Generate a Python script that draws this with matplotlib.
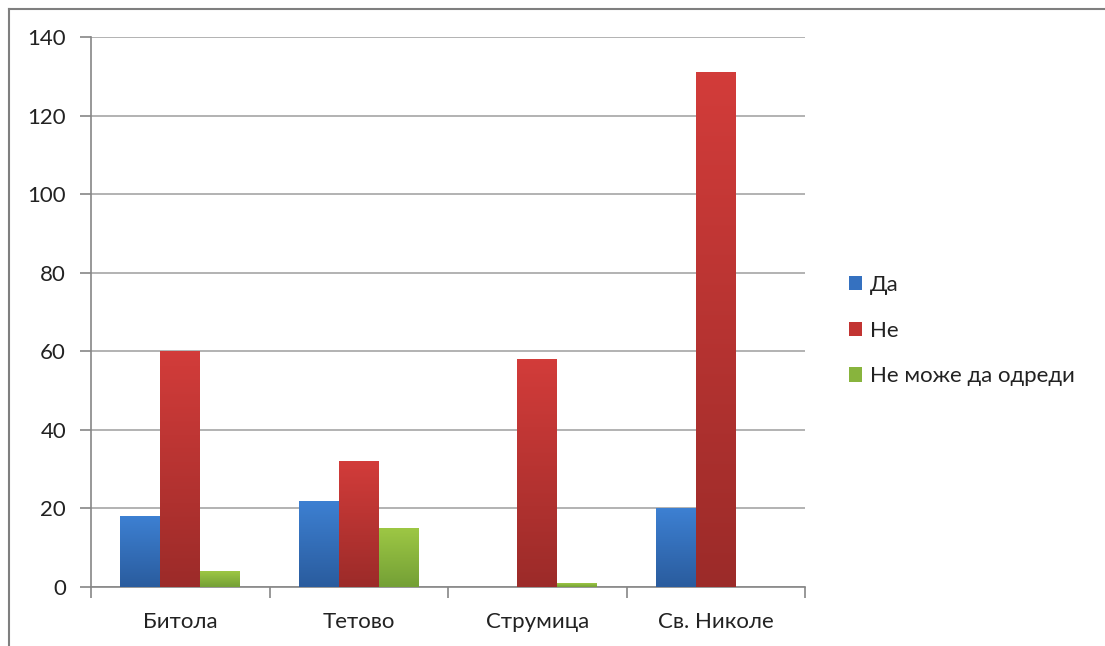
import numpy as np
import matplotlib
matplotlib.use('Agg')
from matplotlib import pyplot as plt
from matplotlib.patches import Patch
from matplotlib.lines import Line2D

# Податоци
gradovi = ['Битола', 'Тетово', 'Струмица', 'Св. Николе']
da = [18, 22, 0, 20]
ne = [60, 32, 58, 131]
ne_moze = [4, 15, 1, 0]
serii = ['Да', 'Не', 'Не може да одреди']

# (горна боја, долна боја) за градиент
boi = [('#3d80d2', '#2a5c9e'),
       ('#d23c3a', '#9c2b29'),
       ('#9dc744', '#74a036')]
legend_boi = ['#3571c0', '#c23432', '#88b43d']

plt.rcParams['font.family'] = ['Lato', 'DejaVu Sans']

fig = plt.figure(figsize=(11.05, 6.46), dpi=100)
ax = fig.add_axes([0.0824, 0.0913, 0.6461, 0.8514])

x = np.arange(len(gradovi))
w = 0.224


def gradient_bar(bars, c_top, c_bot):
    top = np.array(matplotlib.colors.to_rgb(c_top))
    bot = np.array(matplotlib.colors.to_rgb(c_bot))
    t = np.linspace(0, 1, 64)[:, None]
    img = (top * (1 - t) + bot * t)[:, None, :]
    for b in bars:
        h = b.get_height()
        if h <= 0:
            continue
        x0 = b.get_x()
        im = ax.imshow(img, extent=[x0, x0 + b.get_width(), 0, h],
                       aspect='auto', zorder=3, interpolation='bilinear')
        im.set_clip_path(b)


for i, vals in enumerate([da, ne, ne_moze]):
    bars = ax.bar(x + (i - 1) * w, vals, w, color='none', edgecolor='none', zorder=3)
    gradient_bar(bars, *boi[i])

ax.set_xlim(-0.5, len(gradovi) - 0.5)
ax.set_ylim(0, 140)
ax.set_yticks(range(0, 141, 20))
ax.yaxis.grid(True, color='#a6a6a6', linewidth=1.2, zorder=0)
ax.set_axisbelow(True)

ax.set_xticks(x)
ax.set_xticklabels(gradovi, fontsize=16, color='#222222')
ax.set_xticks(np.arange(-0.5, len(gradovi)), minor=True)
ax.tick_params(axis='x', which='major', length=0, pad=18)
ax.tick_params(axis='x', which='minor', length=8, width=1.2, color='#868686', direction='out')
ax.tick_params(axis='y', length=8, width=1.2, color='#868686', direction='out',
               labelsize=16, labelcolor='#222222', pad=10)

for s in ['top', 'right']:
    ax.spines[s].set_visible(False)
for s in ['left', 'bottom']:
    ax.spines[s].set_color('#868686')
    ax.spines[s].set_linewidth(1.2)

handles = [Patch(facecolor=c, edgecolor='none') for c in legend_boi]
fig.legend(handles, serii, loc='upper left', bbox_to_anchor=(0.75, 0.605),
           frameon=False, fontsize=16, handlelength=0.6, handleheight=0.6,
           handletextpad=0.35, labelspacing=1.15, labelcolor='#222222')

# рамка околу графиконот
fig.add_artist(Line2D([9 / 1105, 1], [1 - 8.5 / 646, 1 - 8.5 / 646],
                      transform=fig.transFigure, color='#7f7f7f', linewidth=1.5))
fig.add_artist(Line2D([9 / 1105, 9 / 1105], [0, 1 - 8.5 / 646],
                      transform=fig.transFigure, color='#7f7f7f', linewidth=1.5))

fig.savefig('out.png', dpi=100)
